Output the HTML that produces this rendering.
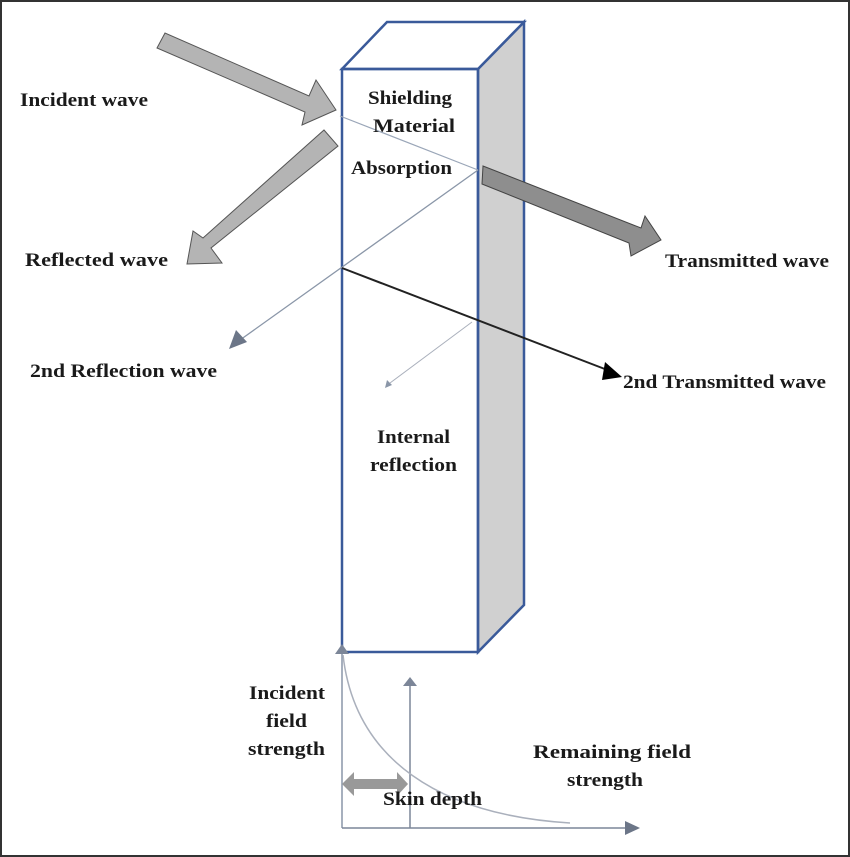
<!DOCTYPE html>
<html><head><meta charset="utf-8"><style>
html,body{margin:0;padding:0;background:#fff}
svg{display:block}
text{font-family:"Liberation Serif",serif;font-weight:bold;font-size:19px;fill:#1a1a1a}
</style></head><body>
<svg width="850" height="857" viewBox="0 0 850 857" xmlns="http://www.w3.org/2000/svg">
<rect x="1" y="1" width="848" height="855" fill="#fff" stroke="#333" stroke-width="2"/>
<polygon points="478,69 524,22 524,605 478,652" fill="#d0d0d0" stroke="#3a5a9a" stroke-width="2.5"/>
<polygon points="342,69 387,22 524,22 478,69" fill="#fff" stroke="#3a5a9a" stroke-width="2.5"/>
<rect x="342" y="69" width="136" height="583" fill="none" stroke="#3a5a9a" stroke-width="2.5"/>
<line x1="340" y1="116" x2="478" y2="170" stroke="#9aa6b8" stroke-width="1.2"/>
<line x1="478" y1="170" x2="240" y2="340" stroke="#8a96a8" stroke-width="1.3"/>
<polygon points="229,349 236,330 247,342" fill="#6c7688"/>
<line x1="342" y1="268" x2="610" y2="371" stroke="#222" stroke-width="2"/>
<polygon points="622,377 605,362 602,380" fill="#000"/>
<line x1="472" y1="322" x2="390" y2="383" stroke="#aab0bc" stroke-width="1"/>
<polygon points="385,388 387,380 392,385" fill="#8a96a8"/>
<polygon points="157,48 165,33 309,96 316,80 336,110 302,125 305,112" fill="#b4b4b4" stroke="#555" stroke-width="1"/>
<polygon points="324,130 338,146 211,248 222,263 187,264 193,231 203,238" fill="#b4b4b4" stroke="#555" stroke-width="1"/>
<polygon points="483,166 482,184 629,243 631,256 661,240 645,216 641,228" fill="#8e8e8e" stroke="#444" stroke-width="1"/>
<text x="20" y="106" textLength="128" lengthAdjust="spacingAndGlyphs">Incident wave</text>
<text x="25" y="266" textLength="143" lengthAdjust="spacingAndGlyphs">Reflected wave</text>
<text x="665" y="267" textLength="164" lengthAdjust="spacingAndGlyphs">Transmitted wave</text>
<text x="30" y="377" textLength="187" lengthAdjust="spacingAndGlyphs">2nd Reflection wave</text>
<text x="623" y="388" textLength="203" lengthAdjust="spacingAndGlyphs">2nd Transmitted wave</text>
<text x="368" y="104" textLength="84" lengthAdjust="spacingAndGlyphs">Shielding</text>
<text x="373" y="132" textLength="82" lengthAdjust="spacingAndGlyphs">Material</text>
<text x="351" y="174" textLength="101" lengthAdjust="spacingAndGlyphs">Absorption</text>
<text x="377" y="443" textLength="73" lengthAdjust="spacingAndGlyphs">Internal</text>
<text x="370" y="471" textLength="87" lengthAdjust="spacingAndGlyphs">reflection</text>
<line x1="342" y1="650" x2="342" y2="828" stroke="#8a96a8" stroke-width="1.5"/>
<polygon points="335,654 342,644 349,654" fill="#7c8698"/>
<line x1="342" y1="828" x2="630" y2="828" stroke="#7c8698" stroke-width="1.5"/>
<polygon points="625,821 640,828 625,835" fill="#6c7688"/>
<line x1="410" y1="828" x2="410" y2="683" stroke="#7c8698" stroke-width="1.5"/>
<polygon points="403,686 410,677 417,686" fill="#7c8698"/>
<path d="M343,655 C355,760 440,815 570,823" fill="none" stroke="#aab0bc" stroke-width="1.5"/>
<polygon points="342,784 354,772 354,779 397,779 397,772 408,784 397,796 397,789 354,789 354,796" fill="#999"/>
<text x="249" y="699" textLength="76" lengthAdjust="spacingAndGlyphs">Incident</text>
<text x="266" y="727" textLength="41" lengthAdjust="spacingAndGlyphs">field</text>
<text x="248" y="755" textLength="77" lengthAdjust="spacingAndGlyphs">strength</text>
<text x="533" y="758" textLength="158" lengthAdjust="spacingAndGlyphs">Remaining field</text>
<text x="567" y="786" textLength="76" lengthAdjust="spacingAndGlyphs">strength</text>
<text x="383" y="805" textLength="99" lengthAdjust="spacingAndGlyphs">Skin depth</text>
</svg>
</body></html>
